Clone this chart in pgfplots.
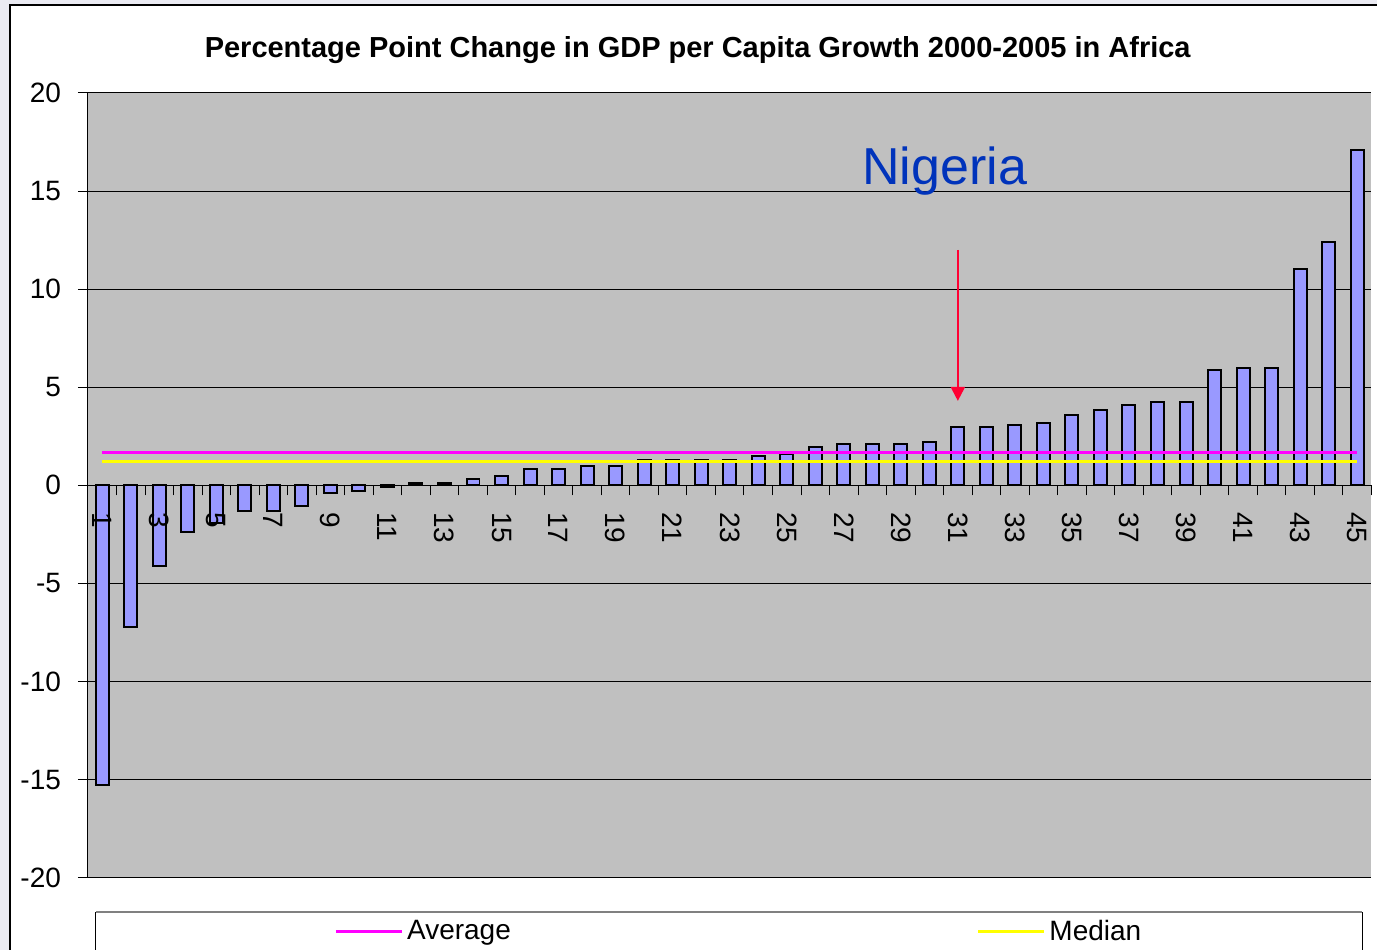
\documentclass[border=0pt]{standalone}
\usepackage{fontspec}
\setmainfont{Liberation Sans}
\usepackage{pgfplots}
\pgfplotsset{compat=1.18}
\usetikzlibrary{arrows.meta}

\definecolor{plotgray}{RGB}{192,192,192}
\definecolor{barblue}{RGB}{153,153,255}
\definecolor{outerbg}{RGB}{234,234,242}
\definecolor{nigeriablue}{RGB}{0,51,187}
\definecolor{arrowred}{RGB}{255,0,51}
\definecolor{avgpink}{RGB}{255,0,255}
\definecolor{medyellow}{RGB}{255,255,0}

\pgfplotsset{
    chartframe/.style={
        at={(44pt,36pt)}, anchor=south west,
        scale only axis,
        width=642pt, height=392.5pt,
        xmin=0.5, xmax=45.5,
        ymin=-20, ymax=20,
        clip=false,
    },
}

\begin{document}
\begin{tikzpicture}
% chart area (1px = 0.5pt)
\fill[outerbg] (0,0) rectangle (689pt,475pt);
\fill[white] (5pt,0) rectangle (689pt,472.5pt);
\draw[black, line width=0.6pt] (5pt,0) -- (5pt,472.5pt) -- (689pt,472.5pt);
\useasboundingbox (0,0) rectangle (689pt,475pt);

\node[anchor=base, font=\fontsize{14.5}{17}\selectfont\bfseries] at (349pt,446pt)
  {Percentage Point Change in GDP per Capita Growth 2000-2005 in Africa};

% legend frame
\draw[black, line width=0.5pt] (48pt,0) -- (48pt,19pt);
\draw[black, line width=0.5pt] (681.5pt,0) -- (681.5pt,19pt);
\draw[gray, line width=1pt] (48pt,19pt) -- (681.5pt,19pt);

\begin{axis}[
    chartframe,
    axis background/.style={fill=plotgray},
    axis x line=middle,
    axis y line=left,
    axis line style={-, black, line width=0.5pt},
    xtick={1,3,...,45},
    xticklabels={},
    major x tick style={draw=none},
    minor xtick={0.5,1.5,...,45.5},
    minor x tick style={black, line width=0.5pt},
    minor tick length=5pt,
    ytick={-20,-15,...,20},
    y tick style={black, line width=0.5pt},
    major tick length=5pt,
    tick align=outside,
    ymajorgrids,
    grid style={black, line width=0.5pt},
    yticklabel style={xshift=-5pt, font=\fontsize{14}{16}\selectfont},
    /pgf/number format/assume math mode=true,
    legend style={at={(axis description cs:0.187,-0.069)}, anchor=west,
        draw=none, fill=none, font=\fontsize{14}{16}\selectfont,
        legend columns=2,
        /tikz/every even column/.append style={column sep=231pt}},
    legend image code/.code={\draw[#1] (0pt,0pt) -- (33pt,0pt);},
]
\addplot[ybar, bar width=6.5pt, fill=barblue, draw=black, line width=1pt, forget plot] coordinates {
    (1,-15.3) (2,-7.2) (3,-4.1) (4,-2.4) (5,-1.9) (6,-1.3) (7,-1.3) (8,-1.07)
    (9,-0.4) (10,-0.3) (11,-0.1) (12,0.1) (13,0.1) (14,0.33) (15,0.45)
    (16,0.83) (17,0.85) (18,0.97) (19,0.97) (20,1.27) (21,1.27) (22,1.27)
    (23,1.27) (24,1.47) (25,1.6) (26,1.95) (27,2.1) (28,2.1) (29,2.1)
    (30,2.23) (31,2.95) (32,2.95) (33,3.07) (34,3.2) (35,3.57) (36,3.83)
    (37,4.1) (38,4.23) (39,4.23) (40,5.86) (41,5.96) (42,5.96) (43,11.0)
    (44,12.4) (45,17.1)
};
\addplot[avgpink, line width=1.4pt] coordinates {(1,1.68) (45,1.68)};
\addplot[medyellow, line width=1.4pt] coordinates {(1,1.22) (45,1.22)};
\legend{Average, Median}

\node[anchor=base west, text=nigeriablue, font=\fontsize{26}{30}\selectfont, inner sep=0pt]
  at (axis cs:27.64,15.34) {Nigeria};
\draw[draw=arrowred, line width=1pt, -{Triangle[width=7pt,length=7pt]}]
  (axis cs:31,12.0) -- (axis cs:31,4.3);
\end{axis}

% second pass: category labels drawn over the bars
\begin{axis}[
    chartframe,
    hide y axis,
    axis x line=middle,
    x axis line style={draw=none},
    xtick={1,3,...,45},
    major x tick style={draw=none},
    major tick length=5pt,
    tick align=outside,
    xticklabel style={rotate=-90, anchor=west, xshift=5pt, font=\fontsize{14}{16}\selectfont},
    /pgf/number format/assume math mode=true,
]
\end{axis}
\end{tikzpicture}
\end{document}
